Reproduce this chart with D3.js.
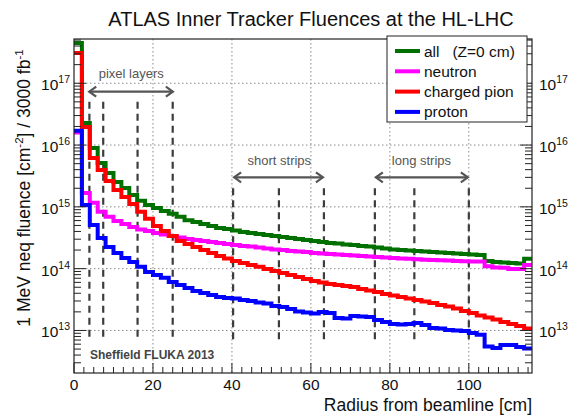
<!DOCTYPE html>
<html><head><meta charset="utf-8">
<script src="https://cdn.jsdelivr.net/npm/d3@7"></script>
<style>body{margin:0;background:#fff}svg{display:block}text{font-family:"Liberation Sans",Arial,sans-serif}</style>
</head><body><svg id="c" width="574" height="416"></svg>
<script>
// bin edges: 2 cm bins from 0 to 116 cm
const binWidth = 2;
const allFluence = [4.5e17,2.28e16,9.0e15,5.13e15,3.54e15,2.53e15,2.02e15,1.56e15,1.25e15,1.07e15,
  9.6e14,8.6e14,7.7e14,6.9e14,6.1e14,5.7e14,5.3e14,4.9e14,4.56e14,4.39e14,
  4.15e14,3.93e14,3.78e14,3.64e14,3.51e14,3.38e14,3.26e14,3.14e14,3.03e14,2.91e14,
  2.81e14,2.70e14,2.61e14,2.56e14,2.46e14,2.42e14,2.33e14,2.29e14,2.20e14,2.12e14,
  2.05e14,2.01e14,1.97e14,1.93e14,1.90e14,1.86e14,1.83e14,1.79e14,1.76e14,1.73e14,
  1.70e14,1.67e14,1.33e14,1.28e14,1.26e14,1.24e14,1.21e14,1.44e14];
const neutron = [1.6e16,1.68e15,1.16e15,8.3e14,6.9e14,5.9e14,5.3e14,4.73e14,4.31e14,4.07e14,
  3.78e14,3.57e14,3.38e14,3.20e14,3.03e14,2.91e14,2.81e14,2.70e14,2.61e14,2.51e14,
  2.42e14,2.33e14,2.29e14,2.20e14,2.12e14,2.05e14,2.01e14,1.93e14,1.90e14,1.86e14,
  1.79e14,1.76e14,1.73e14,1.70e14,1.67e14,1.63e14,1.61e14,1.58e14,1.55e14,1.52e14,
  1.49e14,1.46e14,1.44e14,1.42e14,1.40e14,1.38e14,1.37e14,1.35e14,1.33e14,1.32e14,
  1.31e14,1.30e14,1.09e14,1.04e14,1.03e14,9.9e13,9.9e13,1.15e14];
const chargedPion = [3.09e17,1.96e16,6.2e15,3.95e15,2.62e15,1.88e15,1.45e15,1.11e15,8.3e14,6.4e14,
  4.9e14,4.07e14,3.38e14,2.81e14,2.51e14,2.24e14,2.01e14,1.79e14,1.61e14,1.46e14,
  1.33e14,1.24e14,1.15e14,1.07e14,9.9e13,9.2e13,8.5e13,7.9e13,7.3e13,6.8e13,
  6.3e13,5.98e13,5.65e13,5.45e13,5.25e13,5.06e13,4.69e13,4.44e13,4.20e13,3.90e13,
  3.68e13,3.48e13,3.30e13,3.12e13,2.94e13,2.79e13,2.59e13,2.45e13,2.27e13,2.07e13,
  1.92e13,1.75e13,1.62e13,1.51e13,1.37e13,1.27e13,1.18e13,1.08e13];
const proton = [1.7e16,1.07e15,5.1e14,3.14e14,2.24e14,1.79e14,1.49e14,1.28e14,1.07e14,8.8e13,
  7.9e13,7.1e13,6.1e13,5.45e13,4.87e13,4.36e13,4.04e13,3.75e13,3.48e13,3.36e13,
  3.30e13,3.12e13,3.0e13,2.84e13,2.73e13,2.49e13,2.40e13,2.23e13,2.03e13,1.96e13,
  1.88e13,1.99e13,1.92e13,1.59e13,1.56e13,1.72e13,1.69e13,1.65e13,1.48e13,1.37e13,
  1.27e13,1.25e13,1.27e13,1.32e13,1.23e13,1.10e13,1.08e13,1.02e13,1.0e13,9.8e12,
  9.1e12,8.5e12,5.5e12,5.2e12,5.8e12,5.8e12,5.4e12,5.1e12];
const seriesNames = ["all   (Z=0 cm)","neutron","charged pion","proton"];
const seriesColors = ["#007000","#ff00ff","#ff0000","#0000ff"];
const xTicks = [0,20,40,60,80,100];
const yTickExps = [13,14,15,16,17];
const pixelLayers = [3.9,7.4,16.1,25.0];
const shortStrips = [40.3,51.9,63.3];
const longStrips = [76.2,86.2,100.0];

const svg = d3.select("#c");
const L=74,R=532,T=39,B=373;
const x = d3.scaleLinear().domain([0,116]).range([L,R]);
const y = d3.scaleLog().domain([2.05e12,5.2e17]).range([B,T]);

// title
svg.append("text").attr("x",311).attr("y",26).attr("text-anchor","middle")
  .attr("font-size",20).attr("fill","#111").text("ATLAS Inner Tracker Fluences at the HL-LHC");

// grid
const grid = svg.append("g").attr("stroke","#8a8a8a").attr("stroke-width",1).attr("stroke-dasharray","1.5,2.5");
xTicks.filter(d=>d>0).forEach(d=>grid.append("line").attr("x1",x(d)).attr("x2",x(d)).attr("y1",T).attr("y2",B));
yTickExps.forEach(e=>grid.append("line").attr("x1",L).attr("x2",R).attr("y1",y(Math.pow(10,e))).attr("y2",y(Math.pow(10,e))));

// annotation dashed lines
const ann = svg.append("g").attr("stroke","#3c3c3c").attr("stroke-width",2.2).attr("stroke-dasharray","7,5");
pixelLayers.forEach(r=>ann.append("line").attr("x1",x(r)).attr("x2",x(r)).attr("y1",y(5e16)).attr("y2",y(7e12)));
shortStrips.concat(longStrips).forEach(r=>ann.append("line").attr("x1",x(r)).attr("x2",x(r)).attr("y1",y(2.0e15)).attr("y2",y(6e12)));

// arrows
function dArrow(x1,x2,yy){
  const g = svg.append("g").attr("stroke","#555").attr("stroke-width",2.2).attr("fill","none");
  g.append("line").attr("x1",x1+1).attr("x2",x2-1).attr("y1",yy).attr("y2",yy);
  g.append("path").attr("d",`M${x1+8},${yy-5}L${x1+1},${yy}L${x1+8},${yy+5}`);
  g.append("path").attr("d",`M${x2-8},${yy-5}L${x2-1},${yy}L${x2-8},${yy+5}`);
}
dArrow(x(3.6),x(25.3),y(7.3e16));
dArrow(x(40.3),x(63.3),y(3.0e15));
dArrow(x(76.2),x(100),y(3.0e15));
const lbl = svg.append("g").attr("fill","#555").attr("font-size",13).attr("text-anchor","middle");
lbl.append("text").attr("x",x(14.5)).attr("y",y(1.2e17)).text("pixel layers");
lbl.append("text").attr("x",x(52)).attr("y",y(4.8e15)).text("short strips");
lbl.append("text").attr("x",x(88)).attr("y",y(4.8e15)).text("long strips");
svg.append("text").attr("x",90).attr("y",y(3.5e12)).attr("font-size",12).attr("font-weight","bold")
  .attr("fill","#444").text("Sheffield FLUKA 2013");

// histograms
svg.append("clipPath").attr("id","clip").append("rect").attr("x",L).attr("y",T).attr("width",R-L).attr("height",B-T);
const line = d3.line().x(d=>x(d[0])).y(d=>y(d[1])).curve(d3.curveStepAfter);
[allFluence,neutron,chargedPion,proton].forEach((arr,i)=>{
  const pts = arr.map((v,k)=>[k*binWidth,v]);
  pts.push([arr.length*binWidth,arr[arr.length-1]]);
  svg.append("path").attr("clip-path","url(#clip)").attr("d",line(pts)).attr("fill","none")
    .attr("stroke",seriesColors[i]).attr("stroke-width",4).attr("stroke-linejoin","miter");
});

// frame
svg.append("rect").attr("x",L).attr("y",T).attr("width",R-L).attr("height",B-T)
  .attr("fill","none").attr("stroke","#222").attr("stroke-width",1.2);

// ticks
const tk = svg.append("g").attr("stroke","#222").attr("stroke-width",1);
const yt = y.ticks();
yt.forEach(v=>{
  const e = Math.log10(v); const major = Math.abs(e-Math.round(e))<1e-9;
  const len = major?12:7;
  tk.append("line").attr("x1",L).attr("x2",L+len).attr("y1",y(v)).attr("y2",y(v));
  tk.append("line").attr("x1",R).attr("x2",R-len).attr("y1",y(v)).attr("y2",y(v));
});
d3.range(0,116.01,2.5).forEach(v=>{
  const major = v%20===0; const len = major?10:6;
  tk.append("line").attr("x1",x(v)).attr("x2",x(v)).attr("y1",B).attr("y2",B-len);
});

// tick labels
yTickExps.forEach(e=>{
  const yy = y(Math.pow(10,e))+7;
  const t = svg.append("text").attr("x",70).attr("y",yy).attr("text-anchor","end").attr("font-size",15.5).attr("fill","#111");
  t.append("tspan").text("10");
  t.append("tspan").attr("dy",-7).attr("font-size",10.5).text(e);
  const t2 = svg.append("text").attr("x",539).attr("y",yy).attr("font-size",15.5).attr("fill","#111");
  t2.append("tspan").text("10");
  t2.append("tspan").attr("dy",-7).attr("font-size",10.5).text(e);
});
xTicks.forEach(v=>svg.append("text").attr("x",x(v)).attr("y",390).attr("text-anchor","middle")
  .attr("font-size",15.5).attr("fill","#111").text(v));

// axis titles
svg.append("text").attr("x",R).attr("y",411).attr("text-anchor","end").attr("font-size",17.5).attr("fill","#111")
  .text("Radius from beamline [cm]");
const yl = svg.append("text").attr("transform","translate(30,188) rotate(-90)").attr("text-anchor","middle")
  .attr("font-size",17.5).attr("fill","#111");
yl.append("tspan").text("1 MeV neq fluence [cm");
yl.append("tspan").attr("dy",-7).attr("font-size",11.5).text("-2");
yl.append("tspan").attr("dy",7).text("] / 3000 fb");
yl.append("tspan").attr("dy",-7).attr("font-size",11.5).text("-1");

// legend
const lg = svg.append("g");
lg.append("rect").attr("x",387).attr("y",36).attr("width",140).attr("height",86)
  .attr("fill","#fff").attr("stroke","#222").attr("stroke-width",1);
seriesNames.forEach((n,i)=>{
  const yy = 51+i*20.3;
  lg.append("line").attr("x1",395).attr("x2",420).attr("y1",yy).attr("y2",yy)
    .attr("stroke",seriesColors[i]).attr("stroke-width",4);
  lg.append("text").attr("x",424).attr("y",yy+5.5).attr("font-size",15.5).attr("fill","#111")
    .attr("xml:space","preserve").style("white-space","pre").text(n);
});
</script></body></html>
